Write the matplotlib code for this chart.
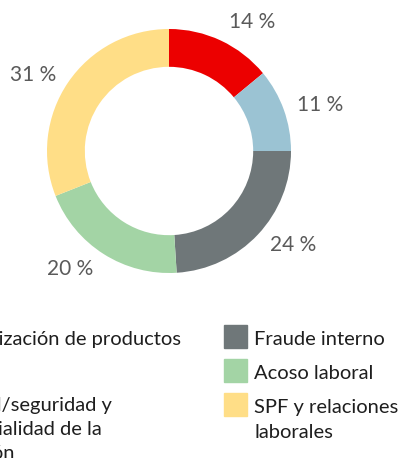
import matplotlib
matplotlib.use("Agg")
import matplotlib.pyplot as plt
from matplotlib.patches import Rectangle

plt.rcParams['font.family'] = ['Lato', 'DejaVu Sans']

# data
categories = ["Comercialización de productos",
              "Privacidad/seguridad y\nconfidencialidad de la\ninformación",
              "Fraude interno", "Acoso laboral", "SPF y relaciones\nlaborales"]
shares = [14, 11, 24, 20, 31]
pct_labels = ["14 %", "11 %", "24 %", "20 %", "31 %"]
colors = ["#EC0000", "#9BC3D3", "#6F7779", "#A3D4A5", "#FFDE87"]

W, H = 400, 458
fig = plt.figure(figsize=(W / 100, H / 100), dpi=100)

# donut, centre (169, 151) px, radius 122 px
cx, cy, r = 169, 151, 122
ax = fig.add_axes([(cx - r) / W, (H - cy - r) / H, 2 * r / W, 2 * r / H])
ax.pie(shares, colors=colors, startangle=90, counterclock=False,
       radius=1, wedgeprops=dict(width=0.31, linewidth=0))
ax.set_xlim(-1, 1)
ax.set_ylim(-1, 1)
ax.axis("off")

# label positions in px (centre of text)
label_px = [(252, 22), (320, 105), (293, 245), (70, 269), (33, 75)]
for lab, (px, py) in zip(pct_labels, label_px):
    fig.text(px / W, 1 - py / H, lab, ha="center", va="center",
             fontsize=15, color="#5A5A5A")

fs = 14.5
tc = "#1E1E1E"


def put_lines(text, x, base, step, ha):
    for k, line in enumerate(text.split("\n")):
        fig.text(x / W, 1 - (base + k * step) / H, line, ha=ha, va="baseline",
                 fontsize=fs, color=tc)


# right legend column
bx = 224
for i, base in [(2, 345), (3, 379), (4, 413)]:
    fig.patches.append(Rectangle((bx / W, 1 - (base + 3) / H), 23 / W, 23 / H,
                                 transform=fig.transFigure, color=colors[i]))
    put_lines(categories[i], 254, base, 25, "left")

# left legend column (cut off by the left edge): right ends of each line
put_lines(categories[0], 181, 345, 24, "right")
ends = [112, 102, 15]
for k, line in enumerate(categories[1].split("\n")):
    fig.text(ends[k] / W, 1 - (411 + k * 24) / H, line, ha="right",
             va="baseline", fontsize=fs, color=tc)

fig.savefig("out.png", dpi=100)
